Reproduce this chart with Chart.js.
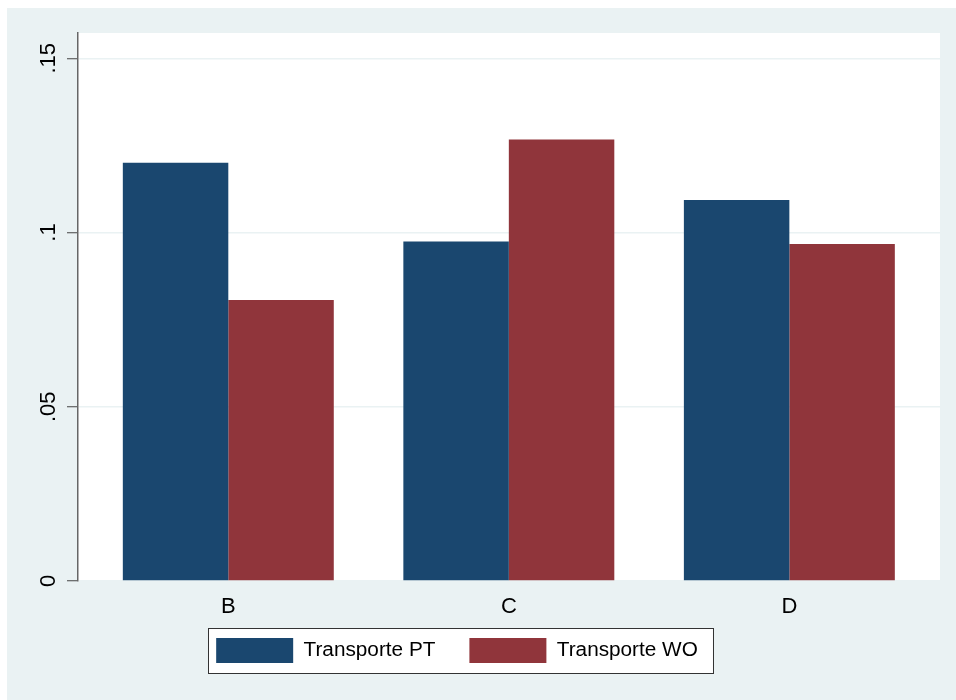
<!DOCTYPE html>
<html>
<head>
<meta charset="utf-8">
<script src="https://cdn.jsdelivr.net/npm/chart.js@4/dist/chart.umd.min.js"></script>
<style>
  html, body { margin: 0; padding: 0; background: #fff; }
  #wrap { width: 956px; height: 700px; }
</style>
</head>
<body>
<div id="wrap"><canvas id="chart" width="956" height="700"></canvas></div>
<script>
// data
const categories = ["B", "C", "D"];
const transportePT = [0.1200, 0.0974, 0.1093];
const transporteWO = [0.0806, 0.1267, 0.0967];
const yTicks = [0, 0.05, 0.1, 0.15];
const seriesNames = ["Transporte PT", "Transporte WO"];

// colours
const bgColor = "#EAF2F3";
const navy = "#1A476F";
const maroon = "#90353B";
const fontFamily = "'Liberation Sans', Arial, sans-serif";

const toPoints = arr => arr.map((v, i) => ({ x: i + 1, y: v }));

// page background, white plot area and the framed legend box
const backdrop = {
  id: "backdrop",
  afterUpdate(chart) {
    // move the legend up under the axis labels and a little left, like the original
    const lg = chart.legend;
    lg.left -= 13;
    lg.right -= 13;
    lg.top -= 17;
    lg.bottom -= 17;
    lg.fit();
    lg.adjustHitBoxes();
  },
  beforeDraw(chart) {
    const c = chart.ctx;
    const a = chart.chartArea;
    c.save();
    c.fillStyle = "#fff";
    c.fillRect(0, 0, chart.width, chart.height);
    c.fillStyle = bgColor;
    c.fillRect(7, 8, chart.width - 7, chart.height - 8);
    c.fillStyle = "#fff";
    c.fillRect(a.left, a.top, a.right - a.left, a.bottom - a.top);

    const hb = chart.legend.legendHitBoxes;
    if (hb && hb.length) {
      const first = hb[0], last = hb[hb.length - 1];
      const x0 = first.left - 8, x1 = last.left + last.width + 15;
      const y0 = first.top - 10, y1 = first.top + first.height + 10;
      c.fillRect(x0, y0, x1 - x0, y1 - y0);
      c.strokeStyle = "#333";
      c.lineWidth = 1;
      c.strokeRect(Math.round(x0) + 0.5, Math.round(y0) + 0.5, Math.round(x1 - x0), Math.round(y1 - y0));
    }
    c.restore();
  }
};

new Chart(document.getElementById("chart"), {
  type: "bar",
  data: {
    datasets: [
      { label: seriesNames[0], data: toPoints(transportePT), backgroundColor: navy, borderWidth: 0 },
      { label: seriesNames[1], data: toPoints(transporteWO), backgroundColor: maroon, borderWidth: 0 }
    ]
  },
  options: {
    responsive: false,
    animation: false,
    events: [],
    layout: { padding: { left: 0, right: 16, top: 33, bottom: 10 } },
    datasets: { bar: { categoryPercentage: 0.752, barPercentage: 1 } },
    scales: {
      x: {
        type: "linear",
        offset: false,
        min: 0.4642,
        max: 3.537,
        afterBuildTicks: s => { s.ticks = categories.map((c, i) => ({ value: i + 1 })); },
        afterFit: s => { s.height = 40; },
        grid: { display: false, drawTicks: false },
        border: { display: false },
        ticks: {
          padding: 13,
          color: "#000",
          font: { family: fontFamily, size: 22 },
          callback: v => categories[v - 1]
        }
      },
      y: {
        min: 0,
        max: 0.15725,
        afterBuildTicks: s => { s.ticks = yTicks.map(v => ({ value: v })); },
        afterFit: s => { s.width = 78; },
        grid: { color: bgColor, lineWidth: 1.5, tickColor: "#444", tickLength: 11, tickWidth: 1 },
        border: { display: true, color: "#666", width: 1.5 },
        ticks: {
          padding: 3,
          minRotation: 90,
          maxRotation: 90,
          crossAlign: "center",
          color: "#000",
          font: { family: fontFamily, size: 22 },
          callback: v => (v === 0 ? "0" : String(+v.toFixed(2)).replace(/^0/, ""))
        }
      }
    },
    plugins: {
      tooltip: { enabled: false },
      legend: {
        position: "bottom",
        labels: {
          boxWidth: 77,
          boxHeight: 25,
          padding: 34,
          color: "#000",
          font: { family: fontFamily, size: 20.75 }
        }
      }
    }
  },
  plugins: [backdrop]
});
</script>
</body>
</html>
